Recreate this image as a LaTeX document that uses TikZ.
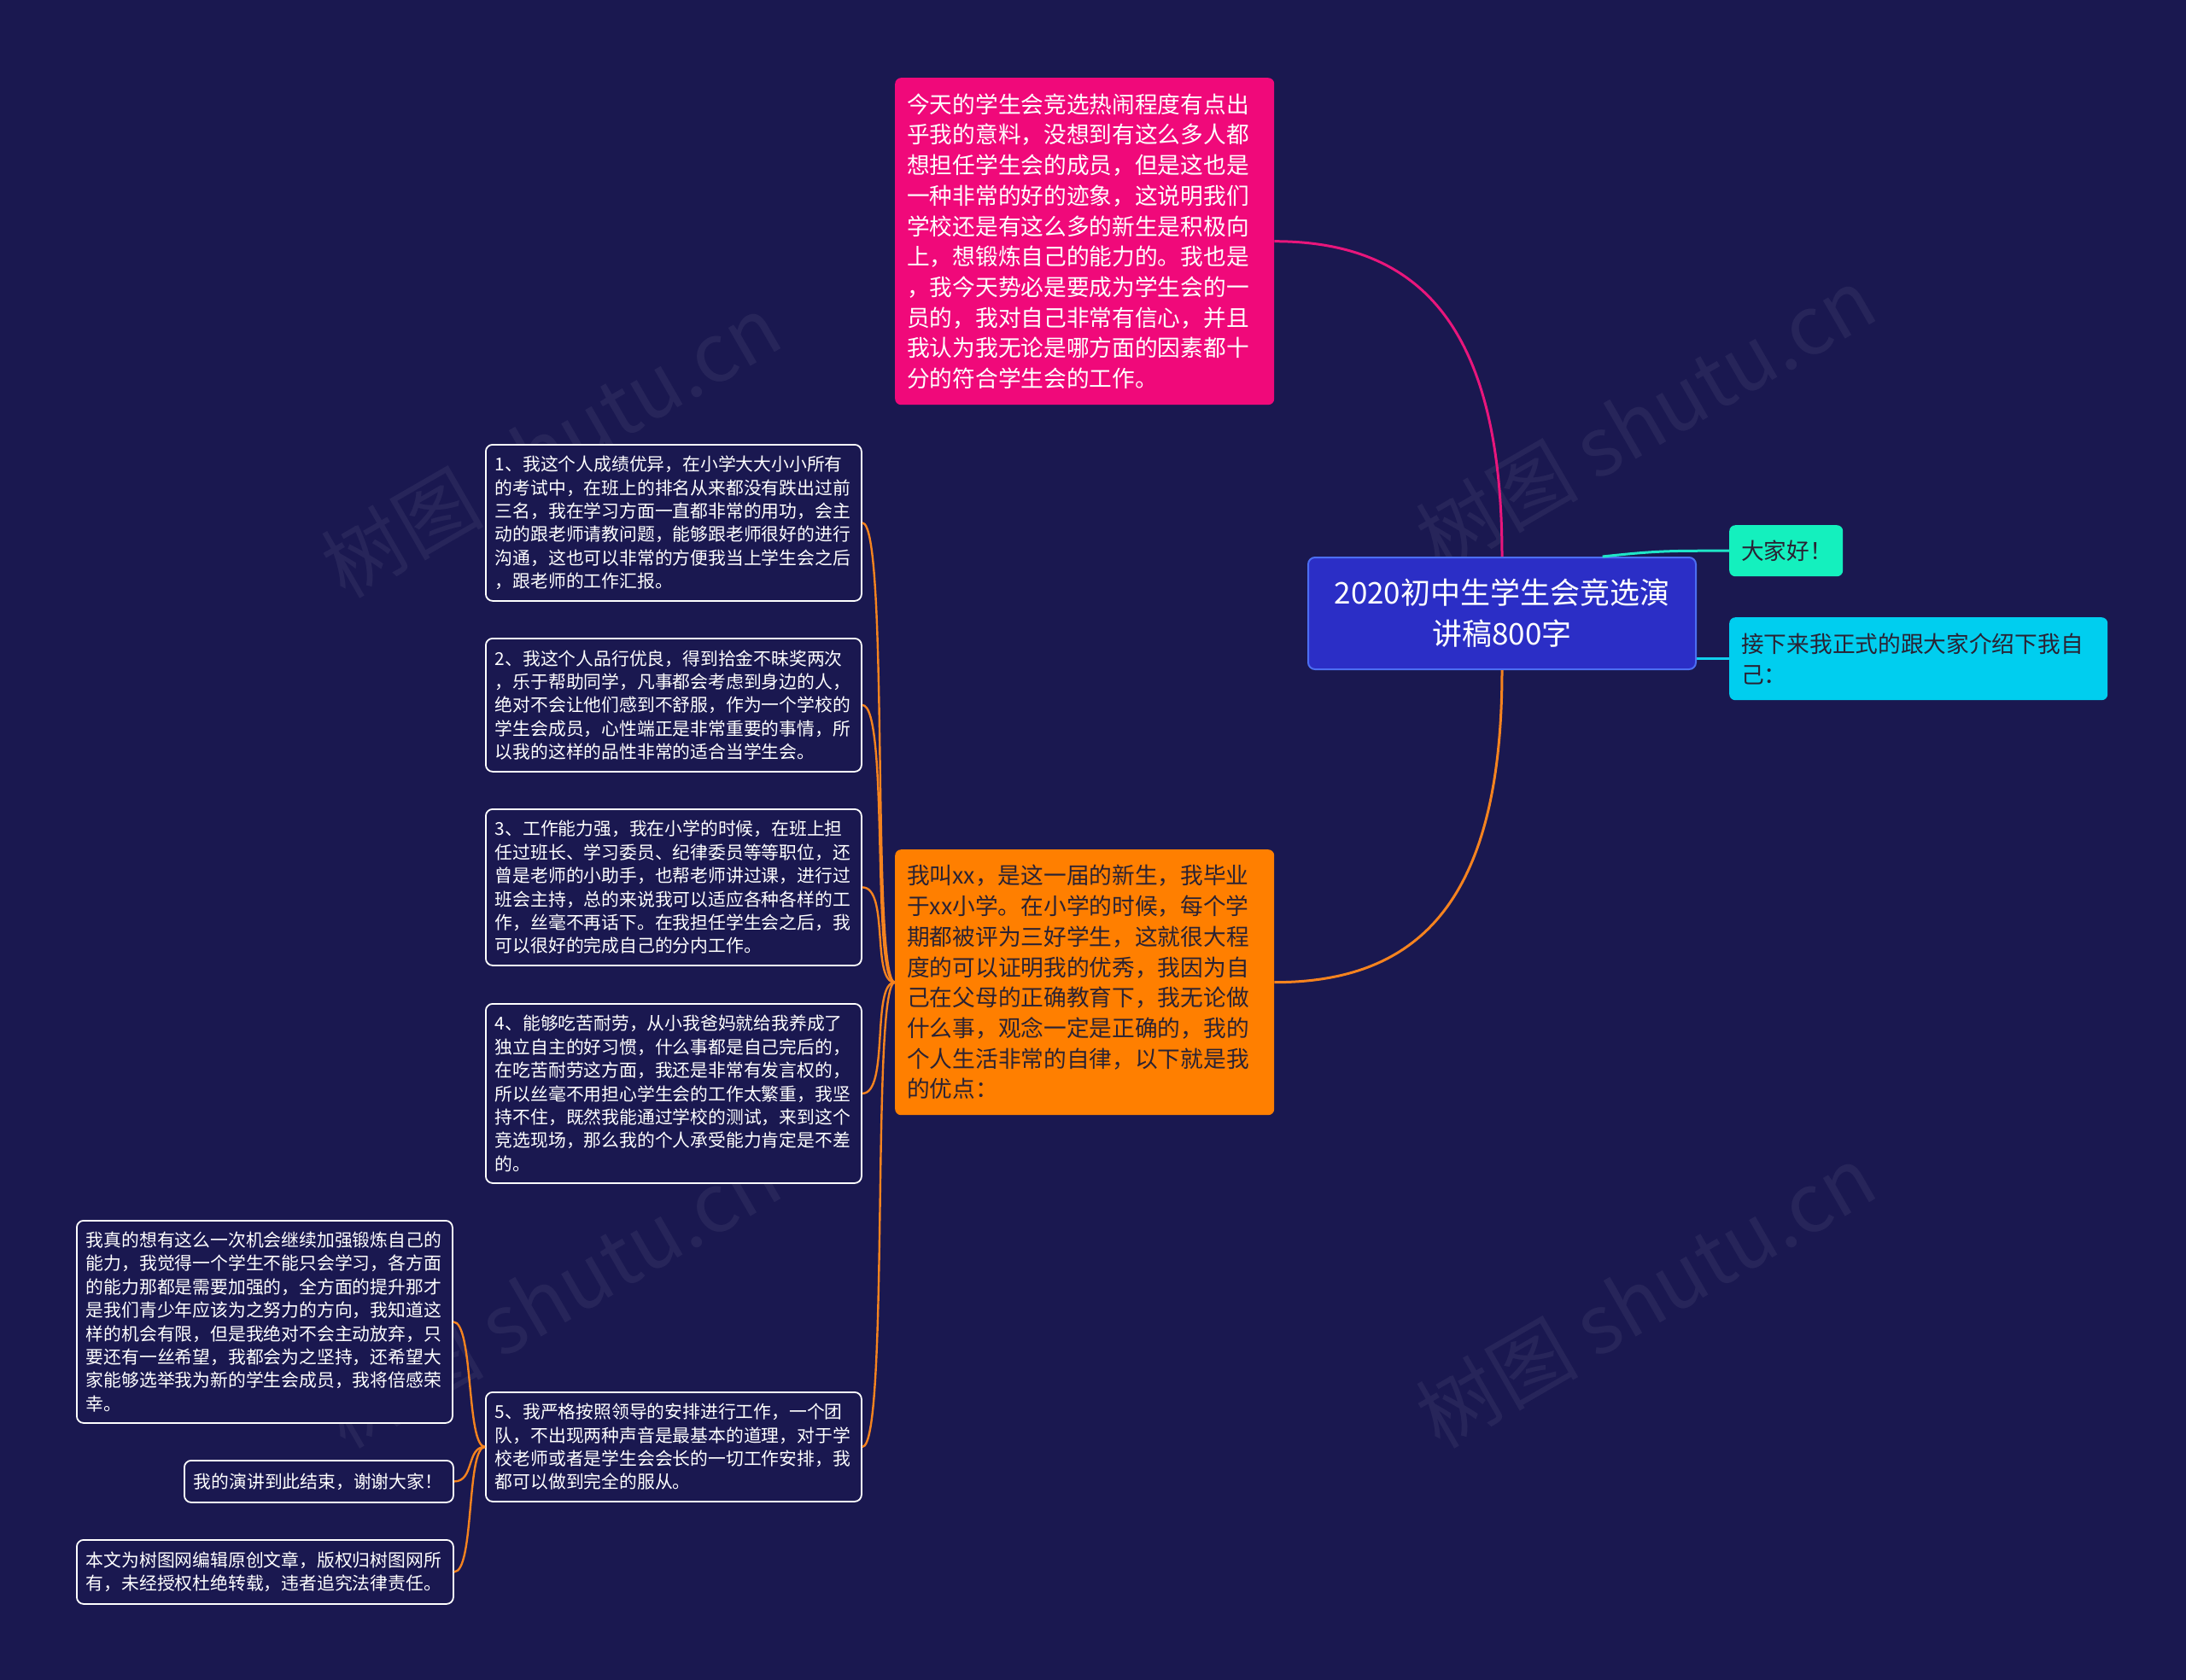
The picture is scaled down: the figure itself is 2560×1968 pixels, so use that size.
\documentclass[tikz,border=0pt]{standalone}
\usepackage{fontspec}
\newfontfamily\cjk{Noto Sans CJK SC}
\usetikzlibrary{calc}
\definecolor{bg}{HTML}{1A1850}
\definecolor{pinkc}{HTML}{F0097A}
\definecolor{orangec}{HTML}{FF7F00}
\definecolor{centerc}{HTML}{2B2EC6}
\definecolor{centerb}{HTML}{4C6EF2}
\definecolor{greenc}{HTML}{14F0BE}
\definecolor{cyanc}{HTML}{00CEEF}
\definecolor{darktext}{HTML}{2A2233}
\definecolor{lineor}{HTML}{F5831F}
\definecolor{linepk}{HTML}{E8167C}
\definecolor{linegr}{HTML}{1FE6C8}
\definecolor{linecy}{HTML}{10D0EE}
\begin{document}
\begin{tikzpicture}[x=1pt,y=-1pt,
  bigbox/.style={anchor=north west, rounded corners=7pt, inner xsep=14pt, inner ysep=0pt,
    font=\cjk\fontsize{26.7pt}{35.7pt}\selectfont, align=left},
  smallbox/.style={anchor=north west, rounded corners=8pt, draw=white, line width=1.8pt,
    fill=bg, text=white, inner xsep=11pt, inner ysep=0pt,
    font=\cjk\fontsize{20.8pt}{27.4pt}\selectfont, align=left},
  conn/.style={line width=3pt},
  conn2/.style={line width=2.4pt, lineor},
  wmark/.style={rotate=30, opacity=0.06, text=white, font=\cjk\fontsize{95pt}{95pt}\selectfont}
]
\useasboundingbox (0,0) rectangle (2560,1968);
\fill[bg] (0,0) rectangle (2560,1968);

% watermarks
\node[wmark] (w1) at (645,522) {树图 shutu.cn};
\node[wmark] (w2) at (1927,490) {树图 shutu.cn};
\node[wmark] (w3) at (645,1518) {树图 shutu.cn};
\node[wmark] (w4) at (1927,1518) {树图 shutu.cn};

% center
\node[anchor=north west, rounded corners=8pt, fill=centerc, draw=centerb, line width=2pt,
  text=white, minimum width=454pt, minimum height=131pt, inner sep=0pt, align=center,
  font=\cjk\fontsize{35pt}{48pt}\selectfont] (c) at (1531,652)
  {2020初中生学生会竞选演\\讲稿800字};

% main branches
\node[bigbox, fill=pinkc, text=white, text width=416pt, minimum height=383pt] (pk) at (1048,91)
{今天的学生会竞选热闹程度有点出\\
乎我的意料，没想到有这么多人都\\
想担任学生会的成员，但是这也是\\
一种非常的好的迹象，这说明我们\\
学校还是有这么多的新生是积极向\\
上，想锻炼自己的能力的。我也是\\
，我今天势必是要成为学生会的一\\
员的，我对自己非常有信心，并且\\
我认为我无论是哪方面的因素都十\\
分的符合学生会的工作。};

\node[bigbox, fill=orangec, text=darktext, text width=416pt, minimum height=311pt] (or) at (1048,995)
{我叫xx，是这一届的新生，我毕业\\
于xx小学。在小学的时候，每个学\\
期都被评为三好学生，这就很大程\\
度的可以证明我的优秀，我因为自\\
己在父母的正确教育下，我无论做\\
什么事，观念一定是正确的，我的\\
个人生活非常的自律，以下就是我\\
的优点：};

\node[bigbox, fill=greenc, text=darktext, text width=105pt, minimum height=60pt] (gr) at (2025,615)
{大家好！};

\node[bigbox, fill=cyanc, text=darktext, text width=415pt, minimum height=97pt] (cy) at (2025,723)
{接下来我正式的跟大家介绍下我自\\己：};

% children of orange
\node[smallbox, text width=418pt, minimum height=183pt] (b1) at (568,520)
{1、我这个人成绩优异，在小学大大小小所有\\
的考试中，在班上的排名从来都没有跌出过前\\
三名，我在学习方面一直都非常的用功，会主\\
动的跟老师请教问题，能够跟老师很好的进行\\
沟通，这也可以非常的方便我当上学生会之后\\
，跟老师的工作汇报。};

\node[smallbox, text width=418pt, minimum height=156pt] (b2) at (568,747)
{2、我这个人品行优良，得到拾金不昧奖两次\\
，乐于帮助同学，凡事都会考虑到身边的人，\\
绝对不会让他们感到不舒服，作为一个学校的\\
学生会成员，心性端正是非常重要的事情，所\\
以我的这样的品性非常的适合当学生会。};

\node[smallbox, text width=418pt, minimum height=183pt] (b3) at (568,947)
{3、工作能力强，我在小学的时候，在班上担\\
任过班长、学习委员、纪律委员等等职位，还\\
曾是老师的小助手，也帮老师讲过课，进行过\\
班会主持，总的来说我可以适应各种各样的工\\
作，丝毫不再话下。在我担任学生会之后，我\\
可以很好的完成自己的分内工作。};

\node[smallbox, text width=418pt, minimum height=210pt] (b4) at (568,1175)
{4、能够吃苦耐劳，从小我爸妈就给我养成了\\
独立自主的好习惯，什么事都是自己完后的，\\
在吃苦耐劳这方面，我还是非常有发言权的，\\
所以丝毫不用担心学生会的工作太繁重，我坚\\
持不住，既然我能通过学校的测试，来到这个\\
竞选现场，那么我的个人承受能力肯定是不差\\
的。};

\node[smallbox, text width=418pt, minimum height=128pt] (b5) at (568,1630)
{5、我严格按照领导的安排进行工作，一个团\\
队，不出现两种声音是最基本的道理，对于学\\
校老师或者是学生会会长的一切工作安排，我\\
都可以做到完全的服从。};

% children of b5
\node[smallbox, text width=418pt, minimum height=237pt] (g1) at (89,1429)
{我真的想有这么一次机会继续加强锻炼自己的\\
能力，我觉得一个学生不能只会学习，各方面\\
的能力那都是需要加强的，全方面的提升那才\\
是我们青少年应该为之努力的方向，我知道这\\
样的机会有限，但是我绝对不会主动放弃，只\\
要还有一丝希望，我都会为之坚持，还希望大\\
家能够选举我为新的学生会成员，我将倍感荣\\
幸。};

\node[smallbox, text width=293pt, minimum height=49pt] (g2) at (215,1710)
{我的演讲到此结束，谢谢大家！};

\node[smallbox, text width=419pt, minimum height=75pt] (g3) at (89,1803)
{本文为树图网编辑原创文章，版权归树图网所\\
有，未经授权杜绝转载，违者追究法律责任。};

% connectors from center
\draw[conn, linepk] (c.north) .. controls ($(c.north)+(0,-270)$) and ($(pk.east)+(170,0)$) .. (pk.east);
\draw[conn, lineor] (c.south) .. controls ($(c.south)+(0,270)$) and ($(or.east)+(170,0)$) .. (or.east);
\draw[conn, linegr] ($(c.north west)!0.758!(c.north east)$) .. controls ($(c.north west)!0.9!(c.north east)+(0,-7)$) and ($(gr.west)+(-70,0)$) .. (gr.west);
\draw[conn, linecy] (c.east |- cy.west) -- (cy.west);

% connectors from orange
\foreach \n in {b1,b2,b3,b4,b5}
  \draw[conn2] (or.west) .. controls ($(or.west)+(-28,0)$) and ($(\n.east)+(32,0)$) .. (\n.east);

% connectors from b5
\foreach \n in {g1,g2,g3}
  \draw[conn2] (b5.west) .. controls ($(b5.west)+(-22,0)$) and ($(\n.east)+(24,0)$) .. (\n.east);
\end{tikzpicture}
\end{document}
